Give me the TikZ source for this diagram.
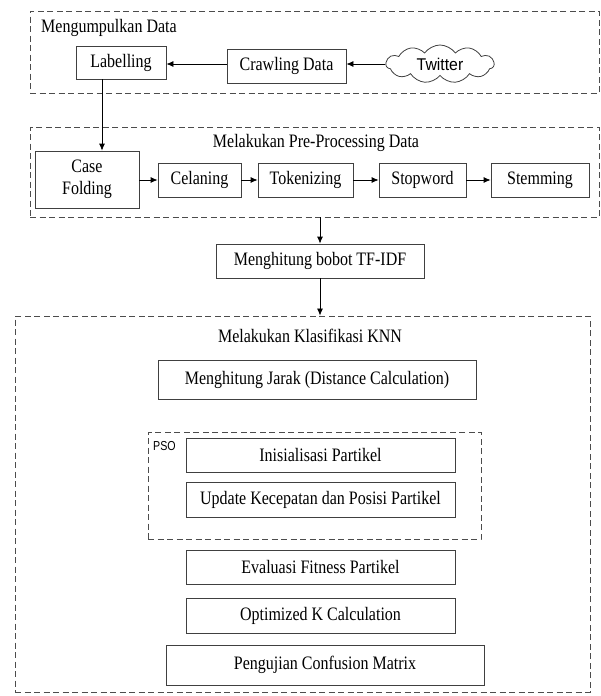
\documentclass[tikz,border=0pt]{standalone}
\usepackage{fontspec}
\usepackage{graphicx}
\setmainfont{Liberation Serif}
\newfontfamily\arialf{Liberation Sans}
\newcommand\sq[1]{\scalebox{0.842}[1]{#1}}
\usetikzlibrary{shapes.symbols,arrows.meta}
\begin{document}
\begin{tikzpicture}[x=1pt,y=-1pt,
  box/.style={draw=black!75, line width=0.8pt, inner sep=0pt, font=\fontsize{19}{22}\selectfont, align=center},
  grp/.style={draw=black!70, line width=0.9pt, dash pattern=on 6pt off 3.5pt, inner sep=0pt},
  arr/.style={-{Latex[length=7pt,width=6pt]}, line width=0.8pt},
  ttl/.style={font=\fontsize{19}{22}\selectfont, inner sep=0pt}]
\useasboundingbox (0,0) rectangle (601,696);
% group 1
\node[grp, minimum width=569pt, minimum height=82pt] (g1) at (314.5,52) {};
\node[ttl, anchor=west] (t1) at (41,28) {\sq{Mengumpulkan Data}};
\node[box, minimum width=90pt, minimum height=33pt] (lab) at (121,62.5) {\sq{Labelling}};
\node[box, minimum width=119pt, minimum height=34pt] (craw) at (286.5,66) {\sq{Crawling Data}};
\node[cloud, draw=black!75, line width=0.8pt, cloud puffs=11, cloud puff arc=110, aspect=3, minimum width=108pt, minimum height=38pt, inner sep=0pt, font=\arialf\fontsize{17}{19}\selectfont] (tw) at (440,64) {\smash{\makebox[0pt]{\raisebox{-6pt}{\scalebox{0.93}[1]{Twitter}}}}};
\draw[arr] (tw.west) -- (tw.west -| craw.east);
\draw[arr] ([yshift=2pt]craw.west) -- ([yshift=2pt]craw.west -| lab.east);
% group 2
\node[grp, minimum width=569pt, minimum height=90pt] (g2) at (314.5,172) {};
\node[ttl] (t2) at (316,143) {\sq{Melakukan Pre-Processing Data}};
\node[box, minimum width=104pt, minimum height=57pt] (cf) at (87,179.5) {\sq{Case}\\\sq{Folding}};
\node[box, minimum width=83pt, minimum height=34pt] (cel) at (199.5,180) {\sq{Celaning}};
\node[box, minimum width=95pt, minimum height=34pt] (tok) at (305.5,180) {\sq{Tokenizing}};
\node[box, minimum width=87pt, minimum height=34pt] (stop) at (422.5,180) {\sq{Stopword}};
\node[box, minimum width=98pt, minimum height=34pt] (stem) at (540,180) {\sq{Stemming}};
\draw[arr] ([xshift=-19pt]lab.south) -- ([xshift=-19pt]lab.south |- cf.north);
\draw[arr] (cf.east |- cel.west) -- (cel.west);
\draw[arr] (cel.east) -- (tok.west);
\draw[arr] (tok.east) -- (stop.west);
\draw[arr] (stop.east) -- (stem.west);
% tf-idf
\node[box, minimum width=208pt, minimum height=34pt] (tf) at (320,261) {\sq{Menghitung bobot TF-IDF}};
\draw[arr] (g2.south -| tf.north) -- (tf.north);
% group 3
\node[grp, minimum width=575pt, minimum height=376pt] (g3) at (302.5,504) {};
\draw[arr] (tf.south) -- (tf.south |- g3.north);
\node[ttl] (t3) at (310,336) {\sq{Melakukan Klasifikasi KNN}};
\node[box, minimum width=318pt, minimum height=39pt] (jar) at (317,379.5) {\sq{Menghitung Jarak (Distance Calculation)}};
\node[grp, minimum width=333pt, minimum height=107pt] (pso) at (314.5,485.5) {};
\node[anchor=north west, inner sep=0pt, font=\arialf\fontsize{13}{15}\selectfont] (psol) at (153,441) {\scalebox{0.82}[1]{PSO}};
\node[box, minimum width=269pt, minimum height=34pt] (ini) at (320.5,455) {\sq{Inisialisasi Partikel}};
\node[box, minimum width=269pt, minimum height=35pt] (upd) at (320.5,499.5) {\sq{Update Kecepatan dan Posisi Partikel}};
\node[box, minimum width=269pt, minimum height=34pt] (eva) at (320.5,567) {\sq{Evaluasi Fitness Partikel}};
\node[box, minimum width=269pt, minimum height=35pt] (opt) at (320.5,615.5) {\sq{Optimized K Calculation}};
\node[box, minimum width=318pt, minimum height=40pt] (uji) at (325,665) {\sq{Pengujian Confusion Matrix}};
\end{tikzpicture}
\end{document}
